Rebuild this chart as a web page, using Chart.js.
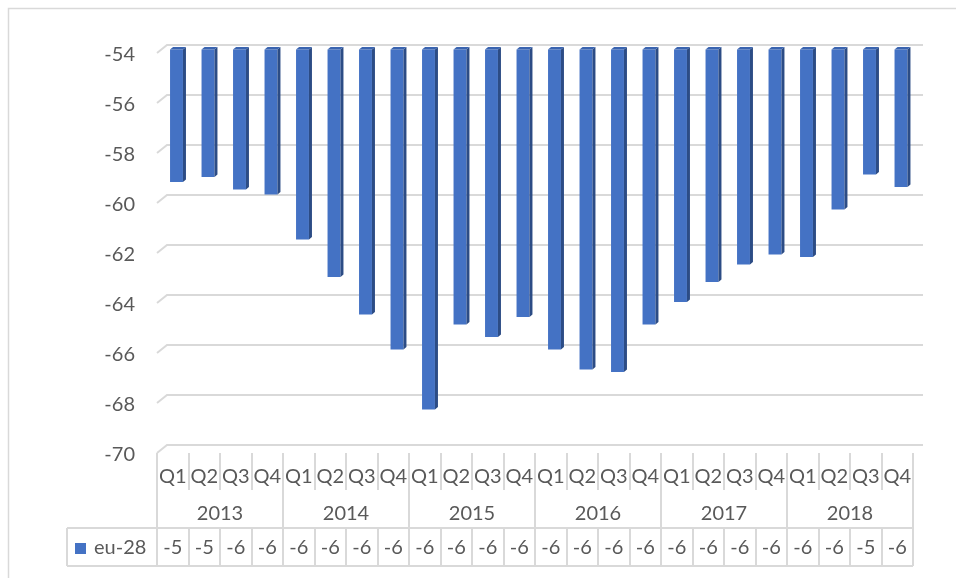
<!DOCTYPE html>
<html>
<head>
<meta charset="utf-8">
<script src="https://cdn.jsdelivr.net/npm/chart.js@4.4.0/dist/chart.umd.min.js"></script>
<style>
  html, body { margin: 0; padding: 0; background: #ffffff; }
  #wrap { width: 956px; height: 578px; position: relative; }
</style>
</head>
<body>
<div id="wrap"><canvas id="c" width="956" height="578"></canvas></div>
<script>
// ---- data ----
const years = ["2013", "2014", "2015", "2016", "2017", "2018"];
const quarters = ["Q1", "Q2", "Q3", "Q4"];
const seriesName = "eu-28";
const barBase = -54;
const values = [
  -59.3, -59.1, -59.6, -59.8,
  -61.6, -63.1, -64.6, -66.0,
  -68.4, -65.0, -65.5, -64.7,
  -66.0, -66.8, -66.9, -65.0,
  -64.1, -63.3, -62.6, -62.2,
  -62.3, -60.4, -59.0, -59.5
];
const tableLabels = [
  "-5", "-5", "-6", "-6",
  "-6", "-6", "-6", "-6",
  "-6", "-6", "-6", "-6",
  "-6", "-6", "-6", "-6",
  "-6", "-6", "-6", "-6",
  "-6", "-6", "-5", "-6"
];
const yMin = -70, yMax = -54, yStep = 2;

// ---- derived ----
const categories = [];
years.forEach(y => quarters.forEach(q => categories.push(q + " " + y)));
const floating = values.map(v => [barBase, v]);

const FONT = "Lato, 'Open Sans', sans-serif";
const TXT = "#595959";
const GRID = "#d9d9d9";
const DEPTH_X = 10, DEPTH_Y = 8;      // back-wall offset
const BAR_DX = 3.75, BAR_DY = -3.5;   // bar plane offset
const SIDE_X = 3, SIDE_Y = 2.5;

const threeD = {
  id: "threeD",
  beforeDraw(chart) {
    const ctx = chart.ctx, a = chart.chartArea, ys = chart.scales.y;
    ctx.save();
    // outer frame
    ctx.strokeStyle = GRID; ctx.lineWidth = 1.5;
    ctx.beginPath();
    ctx.moveTo(8.5, 578); ctx.lineTo(8.5, 8.5); ctx.lineTo(956, 8.5);
    ctx.stroke();
    // back wall gridlines with slanted side segments
    ctx.lineWidth = 2;
    ys.ticks.forEach(t => {
      const py = Math.round(ys.getPixelForValue(t.value));
      ctx.beginPath();
      ctx.moveTo(a.left, py);
      ctx.lineTo(a.left + DEPTH_X, py - DEPTH_Y);
      ctx.lineTo(a.right + DEPTH_X, py - DEPTH_Y);
      ctx.stroke();
    });
    ctx.restore();
  },
  beforeDatasetsDraw(chart) {
    chart.ctx.save();
    chart.ctx.translate(BAR_DX, BAR_DY);
  },
  afterDatasetsDraw(chart) {
    const ctx = chart.ctx;
    const meta = chart.getDatasetMeta(0);
    meta.data.forEach(el => {
      const p = el.getProps(["x", "y", "base", "width"], true);
      const top = Math.min(p.y, p.base), bot = Math.max(p.y, p.base);
      const xl = p.x - p.width / 2, xr = p.x + p.width / 2;
      ctx.fillStyle = "#2C4C85";
      ctx.beginPath();
      ctx.moveTo(xr, top); ctx.lineTo(xr + SIDE_X, top - SIDE_Y);
      ctx.lineTo(xr + SIDE_X, bot - SIDE_Y); ctx.lineTo(xr, bot);
      ctx.closePath(); ctx.fill();
      ctx.fillStyle = "#3A64B0";
      ctx.beginPath();
      ctx.moveTo(xl, top); ctx.lineTo(xl + SIDE_X, top - SIDE_Y);
      ctx.lineTo(xr + SIDE_X, top - SIDE_Y); ctx.lineTo(xr, top);
      ctx.closePath(); ctx.fill();
    });
    ctx.restore();
  },
  afterDraw(chart) {
    const ctx = chart.ctx, a = chart.chartArea, xs = chart.scales.x;
    const n = categories.length;
    const colW = (a.right - a.left) / n;
    const topY = a.bottom;            // 453
    const qBot = 490, rowTop = 528, rowBot = 566;
    const legLeft = 67;
    ctx.save();
    ctx.strokeStyle = GRID; ctx.lineWidth = 2;
    // vertical dividers
    for (let i = 0; i <= n; i++) {
      const bx = Math.round(a.left + i * colW);
      ctx.beginPath();
      if (i % 4 === 0) {
        ctx.moveTo(bx, topY); ctx.lineTo(bx, rowBot);
      } else {
        ctx.moveTo(bx, topY); ctx.lineTo(bx, qBot);
        ctx.moveTo(bx, rowTop); ctx.lineTo(bx, rowBot);
      }
      ctx.stroke();
    }
    // table horizontals and legend cell
    ctx.beginPath();
    ctx.moveTo(legLeft, rowTop); ctx.lineTo(a.right, rowTop);
    ctx.moveTo(legLeft, rowBot); ctx.lineTo(a.right, rowBot);
    ctx.moveTo(legLeft, rowTop); ctx.lineTo(legLeft, rowBot);
    ctx.stroke();
    // texts
    ctx.fillStyle = TXT;
    ctx.font = "20px " + FONT;
    ctx.textAlign = "center"; ctx.textBaseline = "middle";
    categories.forEach((c, i) => {
      const cx = xs.getPixelForValue(i);
      ctx.fillText(quarters[i % 4], cx, 477);
      ctx.fillText(tableLabels[i], cx, 548);
    });
    years.forEach((y, j) => {
      const cx = (xs.getPixelForValue(j * 4) + xs.getPixelForValue(j * 4 + 3)) / 2;
      ctx.fillText(y, cx, 514);
    });
    // legend
    ctx.fillStyle = "#4472C4";
    ctx.fillRect(75, 543, 11, 11);
    ctx.fillStyle = TXT;
    ctx.textAlign = "left";
    ctx.fillText(seriesName, 94, 548);
    ctx.restore();
  }
};

new Chart(document.getElementById("c"), {
  type: "bar",
  data: {
    labels: categories,
    datasets: [{
      label: seriesName,
      data: floating,
      backgroundColor: "#4472C4",
      borderWidth: 0,
      barPercentage: 0.41,
      categoryPercentage: 1.0,
      clip: false
    }]
  },
  options: {
    responsive: false,
    animation: false,
    devicePixelRatio: 1,
    layout: { padding: { left: 0, right: 43, top: 53, bottom: 125 } },
    plugins: { legend: { display: false }, tooltip: { enabled: false } },
    scales: {
      x: { display: false, offset: true },
      y: {
        min: yMin, max: yMax,
        afterFit(s) { s.width = 157; },
        grid: { display: false, drawTicks: false },
        border: { display: false },
        ticks: {
          stepSize: yStep,
          padding: 22,
          labelOffset: 2,
          color: TXT,
          font: { family: FONT, size: 20 }
        }
      }
    }
  },
  plugins: [threeD]
});
</script>
</body>
</html>
